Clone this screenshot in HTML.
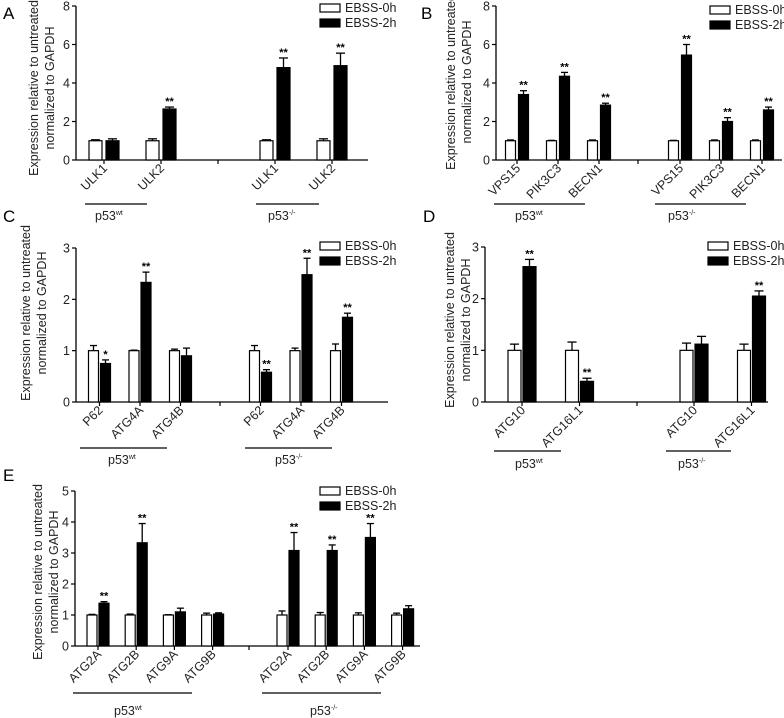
<!DOCTYPE html>
<html><head><meta charset="utf-8"><style>
html,body{margin:0;padding:0;background:#fff;}
svg{display:block;font-family:"Liberation Sans",Arial,sans-serif;}
</style></head><body>
<svg id="fig" width="784" height="718" viewBox="0 0 784 718" xmlns="http://www.w3.org/2000/svg"></svg>
<script>
// ---- Panel A data ----
const aCats = ["ULK1","ULK2","ULK1","ULK2"];
const aCtrl = [1,1,1,1];
const aCtrlErr = [0.05,0.1,0.05,0.1];
const aTreat = [1.0,2.65,4.8,4.9];
const aTreatErr = [0.1,0.1,0.5,0.65];
const aStars = ["","**","**","**"];
const aTicks = [0,2,4,6,8];
// ---- Panel B data ----
const bCats = ["VPS15","PIK3C3","BECN1","VPS15","PIK3C3","BECN1"];
const bCtrl = [1,1,1,1,1,1];
const bCtrlErr = [0.04,0.02,0.04,0.02,0.04,0.04];
const bTreat = [3.4,4.35,2.85,5.45,2.0,2.6];
const bTreatErr = [0.2,0.2,0.1,0.55,0.2,0.15];
const bStars = ["**","**","**","**","**","**"];
const bTicks = [0,2,4,6,8];
// ---- Panel C data ----
const cCats = ["P62","ATG4A","ATG4B","P62","ATG4A","ATG4B"];
const cCtrl = [1,1,1,1,1,1];
const cCtrlErr = [0.1,0.01,0.03,0.1,0.05,0.13];
const cTreat = [0.75,2.33,0.9,0.58,2.48,1.65];
const cTreatErr = [0.07,0.2,0.15,0.05,0.32,0.08];
const cStars = ["*","**","","**","**","**"];
const cTicks = [0,1,2,3];
// ---- Panel D data ----
const dCats = ["ATG10","ATG16L1","ATG10","ATG16L1"];
const dCtrl = [1,1,1,1];
const dCtrlErr = [0.12,0.16,0.14,0.12];
const dTreat = [2.62,0.4,1.12,2.05];
const dTreatErr = [0.14,0.06,0.15,0.1];
const dStars = ["**","**","","**"];
const dTicks = [0,1,2,3];
// ---- Panel E data ----
const eCats = ["ATG2A","ATG2B","ATG9A","ATG9B","ATG2A","ATG2B","ATG9A","ATG9B"];
const eCtrl = [1,1,1,1,1,1,1,1];
const eCtrlErr = [0.02,0.03,0.01,0.06,0.13,0.08,0.07,0.06];
const eTreat = [1.38,3.33,1.1,1.03,3.08,3.08,3.5,1.2];
const eTreatErr = [0.05,0.62,0.12,0.04,0.58,0.18,0.45,0.1];
const eStars = ["**","**","","","**","**","**",""];
const eTicks = [0,1,2,3,4,5];

const NS="http://www.w3.org/2000/svg";
const svg=document.getElementById('fig');
function mk(tag,attrs,parent){const e=document.createElementNS(NS,tag);for(const k in attrs)e.setAttribute(k,attrs[k]);(parent||svg).appendChild(e);return e;}

function panel(p){
  const g=mk('g',{});
  
  
  const y=v=>p.y0-(v/p.max)*(p.y0-p.yTop);
  const L=mk('text',{x:p.lx,y:p.ly,'font-size':17},g);L.textContent=p.letter;
  
  
  const t=mk('text',{transform:`translate(${p.tx},${p.ty}) rotate(-90)`,'font-size':12.5,'text-anchor':'middle',fill:'#222'},g);
  
  
  const t1=mk('tspan',{x:0,dy:0},t);t1.textContent='Expression relative to untreated';
  const t2=mk('tspan',{x:0,dy:16},t);t2.textContent='normalized to GAPDH';
  const ya=mk('line',{x1:p.ax,y1:p.yTop,x2:p.ax,y2:p.y0,stroke:'#000','stroke-width':1.3},g);
  
  
  const xa=mk('line',{x1:p.ax,y1:p.y0,x2:p.axEnd,y2:p.y0,stroke:'#000','stroke-width':1.3},g);
  
  
  p.ticks.forEach(v=>{
    mk('line',{x1:p.ax-4,y1:y(v),x2:p.ax,y2:y(v),stroke:'#000','stroke-width':1.2},g);
    const tl=mk('text',{x:p.ax-6,y:y(v)+4.5,'font-size':12.5,'text-anchor':'end',fill:'#222'},g);
    tl.textContent=v;
    
    
  });
  mk('line',{x1:p.mid,y1:p.y0,x2:p.mid,y2:p.y0+4,stroke:'#000','stroke-width':1.2},g);
  const n=p.cats.length, h=n/2;
  for(let i=0;i<n;i++){
    const c=(i<h?p.c0:p.c1)+(i%h)*p.step;
    const wx=c-p.gap/2-p.w, bx=c+p.gap/2;
    const r1=mk('rect',{x:wx,y:y(p.ctrl[i]),width:p.w,height:p.y0-y(p.ctrl[i]),fill:'#fff',stroke:'#000','stroke-width':1.2},g);
    
    
    const r2=mk('rect',{x:bx,y:y(p.treat[i]),width:p.w,height:p.y0-y(p.treat[i]),fill:'#000',stroke:'#000','stroke-width':1.2},g);
    
    
    [[wx,p.ctrl[i],p.ctrlErr[i]],[bx,p.treat[i],p.treatErr[i]]].forEach(([x,v,e])=>{
      const cx=x+p.w/2;
      mk('line',{x1:cx,y1:y(v),x2:cx,y2:y(v+e),stroke:'#000','stroke-width':1.3},g);
      mk('line',{x1:cx-p.w*0.35,y1:y(v+e),x2:cx+p.w*0.35,y2:y(v+e),stroke:'#000','stroke-width':1.3},g);
    });
    if(p.stars[i]){
      const s=mk('text',{x:bx+p.w/2,y:y(p.treat[i]+p.treatErr[i])-2,'font-size':11,'font-weight':'bold','text-anchor':'middle'},g);
      s.textContent=p.stars[i];
      
      
    }
    mk('line',{x1:c,y1:p.y0,x2:c,y2:p.y0+4,stroke:'#000','stroke-width':1.2},g);
    const cl=mk('text',{transform:`translate(${c+4},${p.y0+9}) rotate(-45)`,'font-size':12.5,'text-anchor':'end',fill:'#222'},g);
    cl.textContent=p.cats[i];
    
    
  }
  p.groups.forEach(([x1,x2,lx,sup])=>{
    mk('line',{x1:x1,y1:p.gy,x2:x2,y2:p.gy,stroke:'#000','stroke-width':1.3},g);
    const gt=mk('text',{x:lx,y:p.gy+p.gty,'font-size':12.5,fill:'#222'},g);
    
    
    const s1=mk('tspan',{},gt);s1.textContent='p53';
    const s2=mk('tspan',{'font-size':7,dy:-5},gt);s2.textContent=sup;
  });
  const lg=mk('g',{},g);
  
  
  mk('rect',{x:p.lgx,y:p.lgy,width:20,height:8,fill:'#fff',stroke:'#000','stroke-width':1.2},lg);
  mk('rect',{x:p.lgx,y:p.lgy+15,width:20,height:8,fill:'#000',stroke:'#000','stroke-width':1.2},lg);
  const l1=mk('text',{x:p.lgx+25,y:p.lgy+8,'font-size':12.5,fill:'#222'},lg);l1.textContent='EBSS-0h';
  const l2=mk('text',{x:p.lgx+25,y:p.lgy+23,'font-size':12.5,fill:'#222'},lg);l2.textContent='EBSS-2h';
}

panel({id:'a',letter:'A',lx:3,ly:19,tx:38,ty:88,ax:76,axEnd:368,y0:160,yTop:6,max:8,ticks:aTicks,
  cats:aCats,ctrl:aCtrl,ctrlErr:aCtrlErr,treat:aTreat,treatErr:aTreatErr,stars:aStars,
  c0:104,c1:275,step:57,w:13,gap:4,mid:218,gy:204,gty:16,
  groups:[[85,147,95,'wt'],[256,319,268,'-/-']],lgx:320,lgy:4});
panel({id:'b',letter:'B',lx:421,ly:19,tx:455,ty:82,ax:496,axEnd:782,y0:160,yTop:6,max:8,ticks:bTicks,
  cats:bCats,ctrl:bCtrl,ctrlErr:bCtrlErr,treat:bTreat,treatErr:bTreatErr,stars:bStars,
  c0:517,c1:680,step:41,w:10,gap:3,mid:638,gy:204,gty:16,
  groups:[[494,585,515,'wt'],[655,746,668,'-/-']],lgx:710,lgy:6});
panel({id:'c',letter:'C',lx:3,ly:222,tx:30,ty:313,ax:76,axEnd:388,y0:402,yTop:248,max:3,ticks:cTicks,
  cats:cCats,ctrl:cCtrl,ctrlErr:cCtrlErr,treat:cTreat,treatErr:cTreatErr,stars:cStars,
  c0:99.5,c1:260.5,step:40.5,w:10,gap:2,mid:220,gy:448,gty:16,
  groups:[[80,167,108,'wt'],[245,332,275,'-/-']],lgx:320,lgy:242});
panel({id:'d',letter:'D',lx:423,ly:222,tx:454,ty:320,ax:485,axEnd:768,y0:402,yTop:247,max:3,ticks:dTicks,
  cats:dCats,ctrl:dCtrl,ctrlErr:dCtrlErr,treat:dTreat,treatErr:dTreatErr,stars:dStars,
  c0:522,c1:694,step:57.5,w:13,gap:2,mid:637,gy:451,gty:17,
  groups:[[494,561,515,'wt'],[666,731,678,'-/-']],lgx:708,lgy:242});
panel({id:'e',letter:'E',lx:3,ly:481,tx:42,ty:572,ax:75,axEnd:420,y0:646,yTop:491,max:5,ticks:eTicks,
  cats:eCats,ctrl:eCtrl,ctrlErr:eCtrlErr,treat:eTreat,treatErr:eTreatErr,stars:eStars,
  c0:98,c1:288,step:38.2,w:10,gap:2,mid:249,gy:693,gty:22,
  groups:[[73,192,114,'wt'],[262,381,310,'-/-']],lgx:320,lgy:487});
</script>
</body></html>
